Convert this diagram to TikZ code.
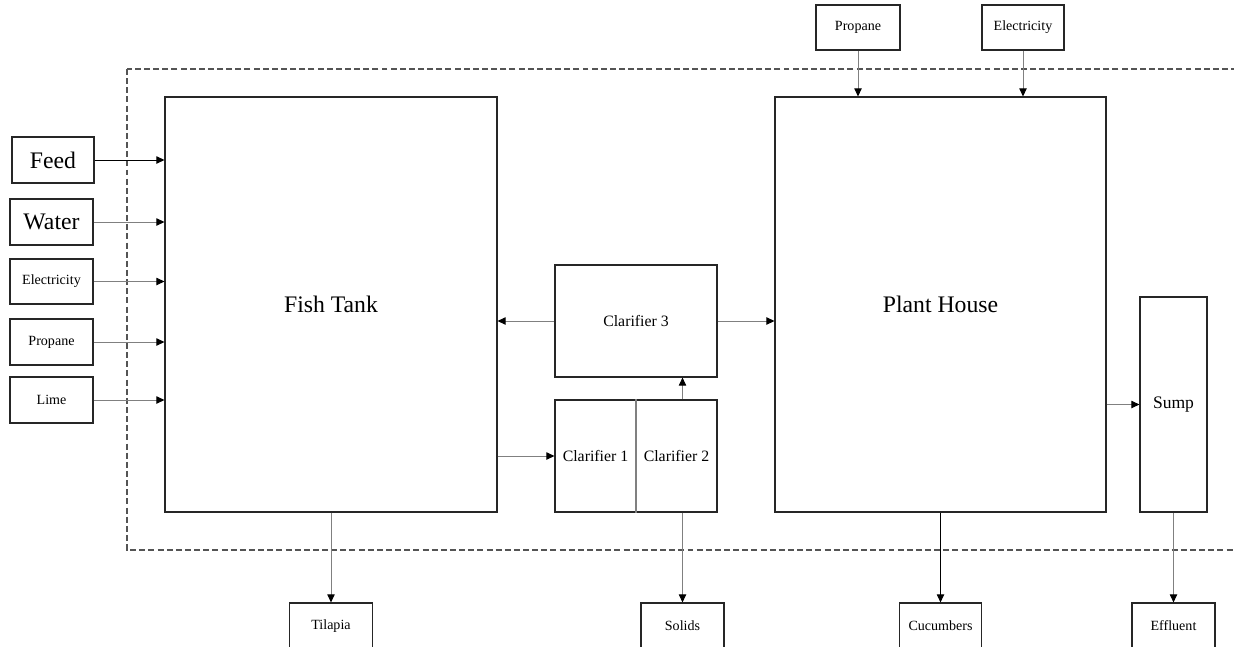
\documentclass[tikz,border=0pt]{standalone}
\usepackage{fontspec}
\setmainfont{Liberation Serif}
\usetikzlibrary{arrows.meta}
\definecolor{flowgray}{rgb}{0.5,0.5,0.5}
\definecolor{framegray}{rgb}{0.33,0.33,0.33}

\begin{document}
\begin{tikzpicture}[x=0.02cm, y=-0.02cm,
        box/.style = {rectangle, draw=black!85, line width=0.65pt, inner sep=0pt,
                      font=\fontsize{8}{10}\selectfont},
        bigtext/.style = {font=\fontsize{13.5}{16}\selectfont},
        clartext/.style = {font=\fontsize{9}{11}\selectfont},
        flow/.style = {draw=flowgray, line width=0.5pt,
                       -{Triangle[length=4.6pt,width=4.2pt,color=black]}}]
        \useasboundingbox (0,0) rectangle (1234,646);
        \clip (0,0) rectangle (1234,646);

        % System boundary
        \draw[framegray, line width=0.8pt, dash pattern=on 3.4pt off 1.8pt]
            (127,69) rectangle (1270,550);

        % Main units
        \node[box,bigtext,minimum width=6.64cm,minimum height=8.3cm] (tank) at (331,304.5) {Fish Tank};
        \node[box,bigtext,minimum width=6.62cm,minimum height=8.3cm] (plant) at (940.5,304.5) {Plant House};
        \node[box,clartext,minimum width=3.24cm,minimum height=2.24cm] (clar3) at (636,321) {Clarifier 3};
        \node[box,minimum width=3.24cm,minimum height=2.24cm] (clarpair) at (636,456) {};
        \node[clartext] (clar1) at (595.5,456) {Clarifier 1};
        \node[clartext] (clar2) at (676.5,456) {Clarifier 2};
        \draw[flowgray, line width=0.6pt] (clarpair.north) -- (clarpair.south);
        \node[box,font=\fontsize{10}{12}\selectfont,minimum width=1.34cm,minimum height=4.3cm] (sump) at (1173.5,404.5) {Sump};

        % Inputs to fish tank
        \node[box,bigtext,minimum width=1.64cm,minimum height=0.92cm] (feed) at (53,160) {Feed};
        \node[box,bigtext,minimum width=1.66cm,minimum height=0.92cm] (water) at (51.5,222) {Water};
        \node[box,minimum width=1.66cm,minimum height=0.9cm] (elecin) at (51.5,281.5) {Electricity};
        \node[box,minimum width=1.66cm,minimum height=0.92cm] (propin) at (51.5,342) {Propane};
        \node[box,minimum width=1.66cm,minimum height=0.92cm] (lime) at (51.5,400) {Lime};

        % Inputs to plant house
        \node[box,minimum width=1.68cm,minimum height=0.9cm] (proptop) at (858,27.5) {Propane};
        \node[box,minimum width=1.64cm,minimum height=0.9cm] (electop) at (1023,27.5) {Electricity};

        % Outputs
        \node[box,minimum width=1.66cm,minimum height=0.92cm] (tilapia) at (331,626) {Tilapia};
        \node[box,minimum width=1.66cm,minimum height=0.92cm] (solids) at (682.5,626) {Solids};
        \node[box,minimum width=1.64cm,minimum height=0.92cm] (cucumbers) at (940.5,626) {Cucumbers};
        \node[box,minimum width=1.66cm,minimum height=0.92cm] (effluent) at (1173.5,626) {Effluent};

        % Flows
        \draw[flow,draw=black] (feed.east) -- (feed.east -| tank.west);
        \draw[flow] (water.east) -- (water.east -| tank.west);
        \draw[flow] (elecin.east) -- (elecin.east -| tank.west);
        \draw[flow] (propin.east) -- (propin.east -| tank.west);
        \draw[flow] (lime.east) -- (lime.east -| tank.west);
        \draw[flow] (proptop.south) -- (proptop.south |- plant.north);
        \draw[flow] (electop.south) -- (electop.south |- plant.north);
        \draw[flow] (tank.east |- clarpair.west) -- (clarpair.west);
        \draw[flow] (solids.north |- clarpair.north) -- (solids.north |- clar3.south);
        \draw[flow] (clar3.west) -- (clar3.west -| tank.east);
        \draw[flow] (clar3.east) -- (clar3.east -| plant.west);
        \draw[flow] (sump.west -| plant.east) -- (sump.west);
        \draw[flow] (tank.south) -- (tilapia.north);
        \draw[flow] (solids.north |- clarpair.south) -- (solids.north);
        \draw[flow,draw=black] (plant.south) -- (cucumbers.north);
        \draw[flow] (sump.south) -- (effluent.north);
    \end{tikzpicture}
\end{document}
